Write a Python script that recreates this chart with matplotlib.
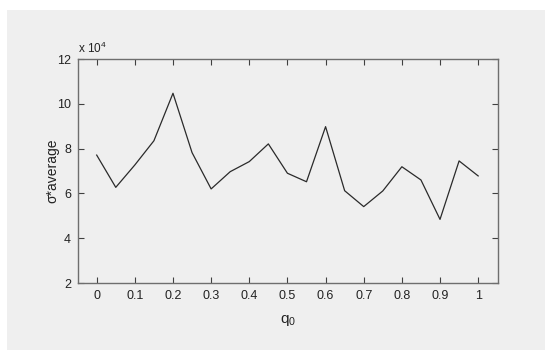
import numpy as np
import matplotlib.pyplot as plt
from matplotlib.patches import Rectangle
from matplotlib.ticker import FuncFormatter

plt.rcParams['font.family'] = ['Liberation Sans Narrow', 'Liberation Sans', 'DejaVu Sans']
plt.rcParams['mathtext.fontset'] = 'custom'
plt.rcParams['mathtext.rm'] = 'Liberation Sans'
plt.rcParams['mathtext.it'] = 'Liberation Sans'

# q0 from 0 to 1 in steps of 0.05
q0 = [0, 0.05, 0.1, 0.15, 0.2, 0.25, 0.3, 0.35, 0.4, 0.45, 0.5,
      0.55, 0.6, 0.65, 0.7, 0.75, 0.8, 0.85, 0.9, 0.95, 1.0]
# sigma*average
sigma_avg = [77100, 62700, 72700, 83500, 104700, 78200, 62000, 69700, 74200, 82100, 69000,
             65200, 89800, 61200, 54100, 61100, 71900, 66000, 48400, 74500, 67800]

gray = '#efefef'
axcol = '#6e6e6e'

fig = plt.figure(figsize=(5.45, 3.5), dpi=100, facecolor='white')
# grey window area, white margin top and left
fig.patches.append(Rectangle((7 / 545, 0), 1, 1 - 10 / 350, transform=fig.transFigure,
                             facecolor=gray, edgecolor='none', zorder=-10))

ax = fig.add_axes([78 / 545, 1 - 283 / 350, 420 / 545, 224 / 350])
ax.set_facecolor(gray)
ax.plot(q0, sigma_avg, color='#2a2a2a', lw=0.9)

ax.set_xlim(-0.049, 1.052)
ax.set_ylim(20000, 120000)
ax.set_xticks(np.arange(0, 1.01, 0.1))
ax.set_xticklabels(['0', '0.1', '0.2', '0.3', '0.4', '0.5', '0.6', '0.7', '0.8', '0.9', '1'])
ax.set_yticks(np.arange(20000, 120001, 20000))
ax.yaxis.set_major_formatter(FuncFormatter(lambda v, p: '%d' % round(v / 1e4)))

for s in ax.spines.values():
    s.set_color(axcol)
    s.set_linewidth(1.0)
ax.tick_params(direction='in', length=4, width=0.8, color='#404040',
               top=True, right=True, labelsize=9, labelcolor='#222222', pad=5)

ax.text(0.0, 1.015, r'x 10$^{4}$', transform=ax.transAxes, fontsize=8.5,
        color='#222222', ha='left', va='bottom')
ax.set_xlabel(r'q$_{\mathrm{0}}$', fontsize=11, color='#222222', labelpad=8)
ax.set_ylabel('σ*average', fontsize=10, color='#222222')
ax.yaxis.set_label_coords(-0.045, 0.5)

fig.savefig('out.png', dpi=100, facecolor=fig.get_facecolor())
